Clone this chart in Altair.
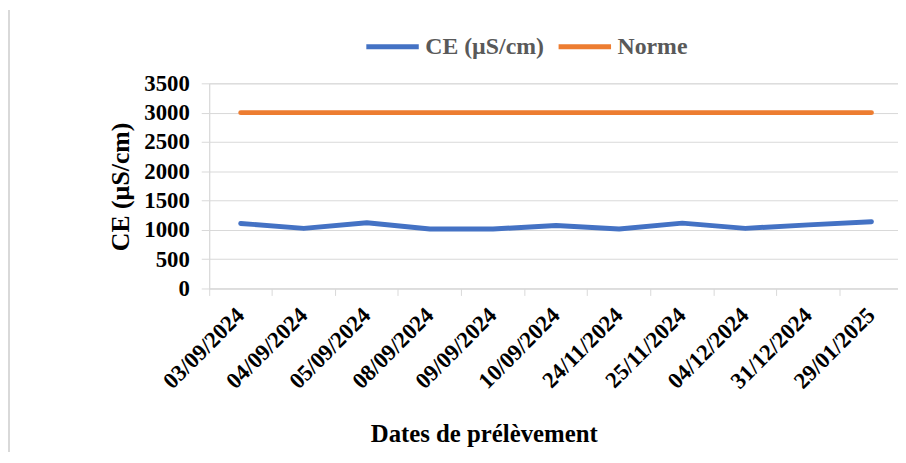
import altair as alt
import pandas as pd

dates = ["03/09/2024", "04/09/2024", "05/09/2024", "08/09/2024", "09/09/2024",
         "10/09/2024", "24/11/2024", "25/11/2024", "04/12/2024", "31/12/2024", "29/01/2025"]
ce_values = [1110, 1025, 1120, 1015, 1015, 1075, 1015, 1115, 1025, 1085, 1140]
norme_values = [3000] * len(dates)
series_names = ["CE (µS/cm)", "Norme"]
series_colors = ["#4472C4", "#ED7D31"]

rows = []
for i, d in enumerate(dates):
    rows.append({"date": d, "serie": series_names[0], "value": ce_values[i], "order": i})
    rows.append({"date": d, "serie": series_names[1], "value": norme_values[i], "order": i})
df = pd.DataFrame(rows)

FONT = "Liberation Serif"

lines = alt.Chart(df).mark_line(strokeWidth=5, strokeCap="round", strokeJoin="round").encode(
    x=alt.X("date:N", sort=dates, bandPosition=0.5,
            scale=alt.Scale(type="band", paddingInner=0, paddingOuter=0),
            axis=alt.Axis(title="Dates de prélèvement", bandPosition=0, grid=False,
                          labelAngle=-45, labelAlign="right", labelBaseline="middle",
                          labelPadding=16, tickSize=7, tickColor="#d9d9d9", domainColor="#d9d9d9",
                          labelFont=FONT, labelFontSize=23, labelFontWeight="bold", labelColor="#000000",
                          titleFont=FONT, titleFontSize=25, titleFontWeight="bold", titleColor="#000000",
                          titleX=277, titleY=146, titleAnchor="start", titleAlign="center",
                          titleBaseline="middle")),
    y=alt.Y("value:Q", scale=alt.Scale(domain=[0, 3500], nice=False),
            axis=alt.Axis(title="CE (µS/cm)", values=[0, 500, 1000, 1500, 2000, 2500, 3000, 3500],
                          format="d",
                          grid=True, gridColor="#d9d9d9", tickSize=8, tickColor="#d9d9d9",
                          domainColor="#d9d9d9", labelPadding=12,
                          labelFont=FONT, labelFontSize=23, labelFontWeight="bold", labelColor="#000000",
                          titleFont=FONT, titleFontSize=26, titleFontWeight="bold", titleColor="#000000",
                          titleAngle=-90, titleX=-89, titleY=104, titleAlign="center",
                          titleBaseline="middle")),
    color=alt.Color("serie:N", scale=alt.Scale(domain=series_names, range=series_colors),
                    legend=alt.Legend(title=None, orient="none", direction="horizontal",
                                      legendX=156, legendY=-66, symbolType="stroke",
                                      symbolSize=2800, symbolStrokeWidth=5, labelOffset=4,
                                      columnPadding=4, labelFont=FONT, labelFontSize=24,
                                      labelFontWeight="bold", labelColor="#595959")),
    order="order:Q",
)

border = alt.Chart(pd.DataFrame({"k": [0]})).mark_rule(color="#d9d9d9", strokeWidth=2).encode(
    x=alt.value(-202), y=alt.value(-74), y2=alt.value(372)
)

chart = alt.layer(lines, border).properties(
    width=700, height=207,
    autosize=alt.AutoSizeParams(type="none"),
    padding={"left": 203, "top": 74, "right": -5, "bottom": 164},
).configure_view(stroke=None).configure(background="white")

chart.save("out.html", embed_options={"renderer": "svg", "actions": False})
